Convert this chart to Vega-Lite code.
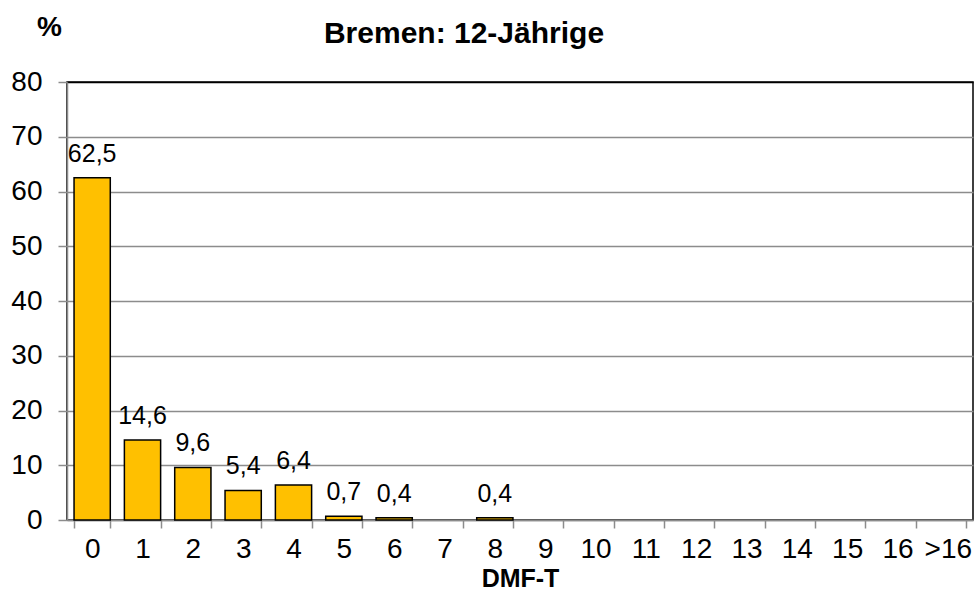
{
  "$schema": "https://vega.github.io/schema/vega-lite/v6.json",
  "width": 906,
  "height": 438,
  "autosize": "none",
  "padding": {"left": 67, "top": 82, "right": 4, "bottom": 87},
  "background": "white",
  "config": {
    "font": "Liberation Sans",
    "locale": {"number": {"decimal": ",", "thousands": ".", "grouping": [3], "currency": ["", " €"]}},
    "view": {"stroke": "black", "strokeWidth": 1.5}
  },
  "title": {
    "text": "Bremen: 12-Jährige",
    "font": "Liberation Sans",
    "fontSize": 30,
    "fontWeight": "bold",
    "color": "black",
    "anchor": "middle",
    "frame": "group",
    "dx": -56,
    "baseline": "alphabetic",
    "offset": -60
  },
  "data": {
    "values": [
      {"dmft": "0", "value": 62.5},
      {"dmft": "1", "value": 14.6},
      {"dmft": "2", "value": 9.6},
      {"dmft": "3", "value": 5.4},
      {"dmft": "4", "value": 6.4},
      {"dmft": "5", "value": 0.7},
      {"dmft": "6", "value": 0.4},
      {"dmft": "8", "value": 0.4}
    ]
  },
  "encoding": {
    "x": {
      "field": "dmft",
      "type": "nominal",
      "sort": null,
      "scale": {
        "domain": ["0","1","2","3","4","5","6","7","8","9","10","11","12","13","14","15","16",">16"],
        "paddingInner": 0.28,
        "paddingOuter": 0.14
      },
      "axis": {
        "title": "DMF-T",
        "titleFont": "Liberation Sans",
        "titleFontSize": 25,
        "titleFontWeight": "bold",
        "titleColor": "black",
        "titlePadding": 3,
        "labelAngle": 0,
        "labelFont": "Liberation Sans",
        "labelFontSize": 28,
        "labelColor": "black",
        "labelPadding": 7,
        "tickBand": "extent",
        "tickSize": 8,
        "tickColor": "#8c8c8c",
        "tickWidth": 1.5,
        "domainColor": "#8c8c8c",
        "domainWidth": 1.5,
        "grid": false
      }
    },
    "y": {
      "field": "value",
      "type": "quantitative",
      "scale": {"domain": [0, 80], "nice": false},
      "axis": {
        "values": [0, 10, 20, 30, 40, 50, 60, 70, 80],
        "title": "%",
        "titleAngle": 0,
        "titleFont": "Liberation Sans",
        "titleFontSize": 28,
        "titleFontWeight": "bold",
        "titleColor": "black",
        "titleX": -18,
        "titleY": -55,
        "titleAlign": "center",
        "titleBaseline": "middle",
        "labelFont": "Liberation Sans",
        "labelFontSize": 28,
        "labelColor": "black",
        "labelPadding": 16,
        "tickSize": 9,
        "tickColor": "#8c8c8c",
        "tickWidth": 1.5,
        "domainColor": "#8c8c8c",
        "domainWidth": 1.5,
        "grid": true,
        "gridColor": {"condition": {"test": "datum.value == 80", "value": "black"}, "value": "#8c8c8c"},
        "gridWidth": 1.5
      }
    }
  },
  "layer": [
    {
      "mark": {"type": "bar", "fill": "#FFC000", "stroke": "black", "strokeWidth": 1.5}
    },
    {
      "mark": {"type": "text", "font": "Liberation Sans", "fontSize": 25, "color": "black", "baseline": "alphabetic", "dy": -16},
      "encoding": {
        "text": {"field": "value", "type": "quantitative", "format": ".1f"}
      }
    }
  ]
}
